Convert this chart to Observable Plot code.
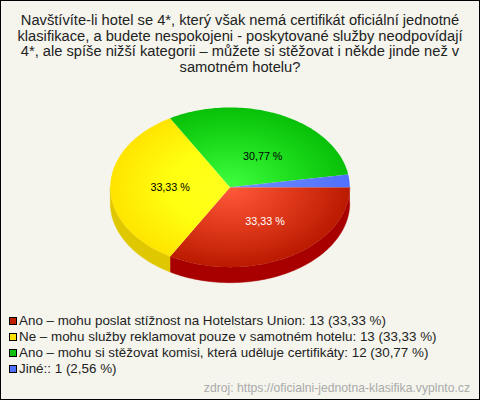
<!DOCTYPE html>
<html><head><meta charset="utf-8">
<script src="https://cdn.jsdelivr.net/npm/d3@7"></script>
<script src="https://cdn.jsdelivr.net/npm/@observablehq/plot@0.6"></script>
<style>
html,body{margin:0;padding:0;background:#f5f5ee}
#frame{position:relative;box-sizing:border-box;width:480px;height:400px;border:1px solid #000;background:#f5f5ee;font-family:"Liberation Sans",Arial,sans-serif;overflow:hidden}
#title{position:absolute;left:-1px;width:480px;top:12px;text-align:center;font-size:14.7px;line-height:15.7px;color:#222;white-space:nowrap}
#chart{position:absolute;left:-1px;top:89px}
#chart svg{display:block;background:transparent}
#legend{position:absolute;left:8px;top:312px;font-size:13.4px;line-height:16px;color:#222;white-space:nowrap}
#legend .row{display:flex;align-items:center;height:16px}
#legend i{display:block;box-sizing:border-box;width:8px;height:8px;border:1px solid #000;margin-right:2px}
#src{position:absolute;right:9px;top:380px;font-size:12.2px;line-height:14px;color:#aaa;white-space:nowrap}
</style></head><body>
<div id="frame">
<div id="title"></div><div id="chart"></div><div id="legend"></div><div id="src"></div>
</div>
<script>
const titleLines = ["Navštívíte-li hotel se 4*, který však nemá certifikát oficiální jednotné","klasifikace, a budete nespokojeni - poskytované služby neodpovídají","4*, ale spíše nižší kategorii – můžete si stěžovat i někde jinde než v","samotném hotelu?"];
const categories = ["Ano – mohu poslat stížnost na Hotelstars Union","Ne – mohu služby reklamovat pouze v samotném hotelu","Ano – mohu si stěžovat komisi, která uděluje certifikáty","Jiné:"];
const counts = [13,13,12,1];
const percents = ["33,33 %","33,33 %","30,77 %","2,56 %"];
const swatch = ["#c02000","#ffe000","#10c010","#5070ff"];
const centerColors = ["#ff5a3c","#ffff20","#40ff40","#7090ff"];
const midColors = ["#e03a1c","#ffff10","#20e020","#6080ff"];
const edgeColors = ["#bb1a00","#ffe400","#08c008","#5070ff"];
const sideColors = ["#a80000","#e0c800","#089008","#3050c0"];
const labelColors = ["#fff","#000","#000",null];
const labelNudge = [[5,0],[0,0],[7,5],[0,0]];
const source = "zdroj: https://oficialni-jednotna-klasifika.vyplnto.cz";

document.getElementById("title").innerHTML = titleLines.map(l=>`<div>${l}</div>`).join("");
document.getElementById("src").textContent = source;
document.getElementById("legend").innerHTML = categories.map((c,i)=>
 `<div class="row"><i style="background:${swatch[i]}"></i><span>${c}: ${counts[i]} (${percents[i]})</span></div>`).join("");

// geometry derived from the values
const depth = 0.195;
const arcs = d3.pie().sort(null).startAngle(0).endAngle(2*Math.PI)(counts);
const pt = (a,r=1,dz=0)=>({x:r*Math.cos(a), y:r*Math.sin(a)+dz});
const steps = (a0,a1)=>{const n=Math.max(2,Math.ceil((a1-a0)*40));return d3.range(n+1).map(i=>a0+(a1-a0)*i/n)};
const faces=[], walls=[], labels=[];
arcs.forEach((arc,i)=>{
  const a0=arc.startAngle,a1=arc.endAngle,name=categories[i];
  faces.push({name,...pt(0,0)});
  steps(a0,a1).forEach(a=>faces.push({name,...pt(a)}));
  faces.push({name,...pt(0,0)});
  const s0=Math.max(a0,0),s1=Math.min(a1,Math.PI);
  if(s1>s0){
    steps(s0,s1).forEach(a=>walls.push({name,...pt(a)}));
    steps(s0,s1).reverse().forEach(a=>walls.push({name,...pt(a,1,depth)}));
  }
  if(labelColors[i]){const m=(a0+a1)/2;labels.push({i,text:percents[i],...pt(m,0.5)});}
});
const plot = Plot.plot({
  width:480,height:200,margin:0,
  x:{domain:[-1,1],range:[110,350],axis:null},
  y:{domain:[-1,1],range:[17,177],axis:null},
  color:{type:"ordinal",domain:categories,range:categories.map((c,i)=>`url(#g${i})`)},
  marks:[
    Plot.line(walls,{x:"x",y:"y",z:"name",fill:d=>sideColors[categories.indexOf(d.name)],stroke:d=>sideColors[categories.indexOf(d.name)],strokeWidth:0.5,curve:"linear"}),
    Plot.line(faces,{x:"x",y:"y",z:"name",fill:"name",stroke:"none",curve:"linear"}),
    ...labels.map(l=>Plot.text([l],{x:"x",y:"y",text:"text",fill:labelColors[l.i],fontSize:10.8,fontFamily:"Liberation Sans",fontWeight:"normal",dx:labelNudge[l.i][0],dy:labelNudge[l.i][1]}))
  ]
});
const sx=plot.scale("x").apply(0), sy=plot.scale("y").apply(0);
const rx=plot.scale("x").apply(1)-sx, ry=plot.scale("y").apply(1)-sy;
const defs=d3.select(plot).insert("defs",":first-child");
categories.forEach((c,i)=>{
  const g=defs.append("radialGradient").attr("id","g"+i).attr("gradientUnits","userSpaceOnUse")
    .attr("cx",0).attr("cy",0).attr("r",1)
    .attr("gradientTransform",`translate(${sx},${sy}) scale(${rx},${ry})`);
  g.append("stop").attr("offset",0).attr("stop-color",centerColors[i]);
  g.append("stop").attr("offset",0.5).attr("stop-color",midColors[i]);
  g.append("stop").attr("offset",1).attr("stop-color",edgeColors[i]);
});
document.getElementById("chart").append(plot);
</script>
</body></html>
